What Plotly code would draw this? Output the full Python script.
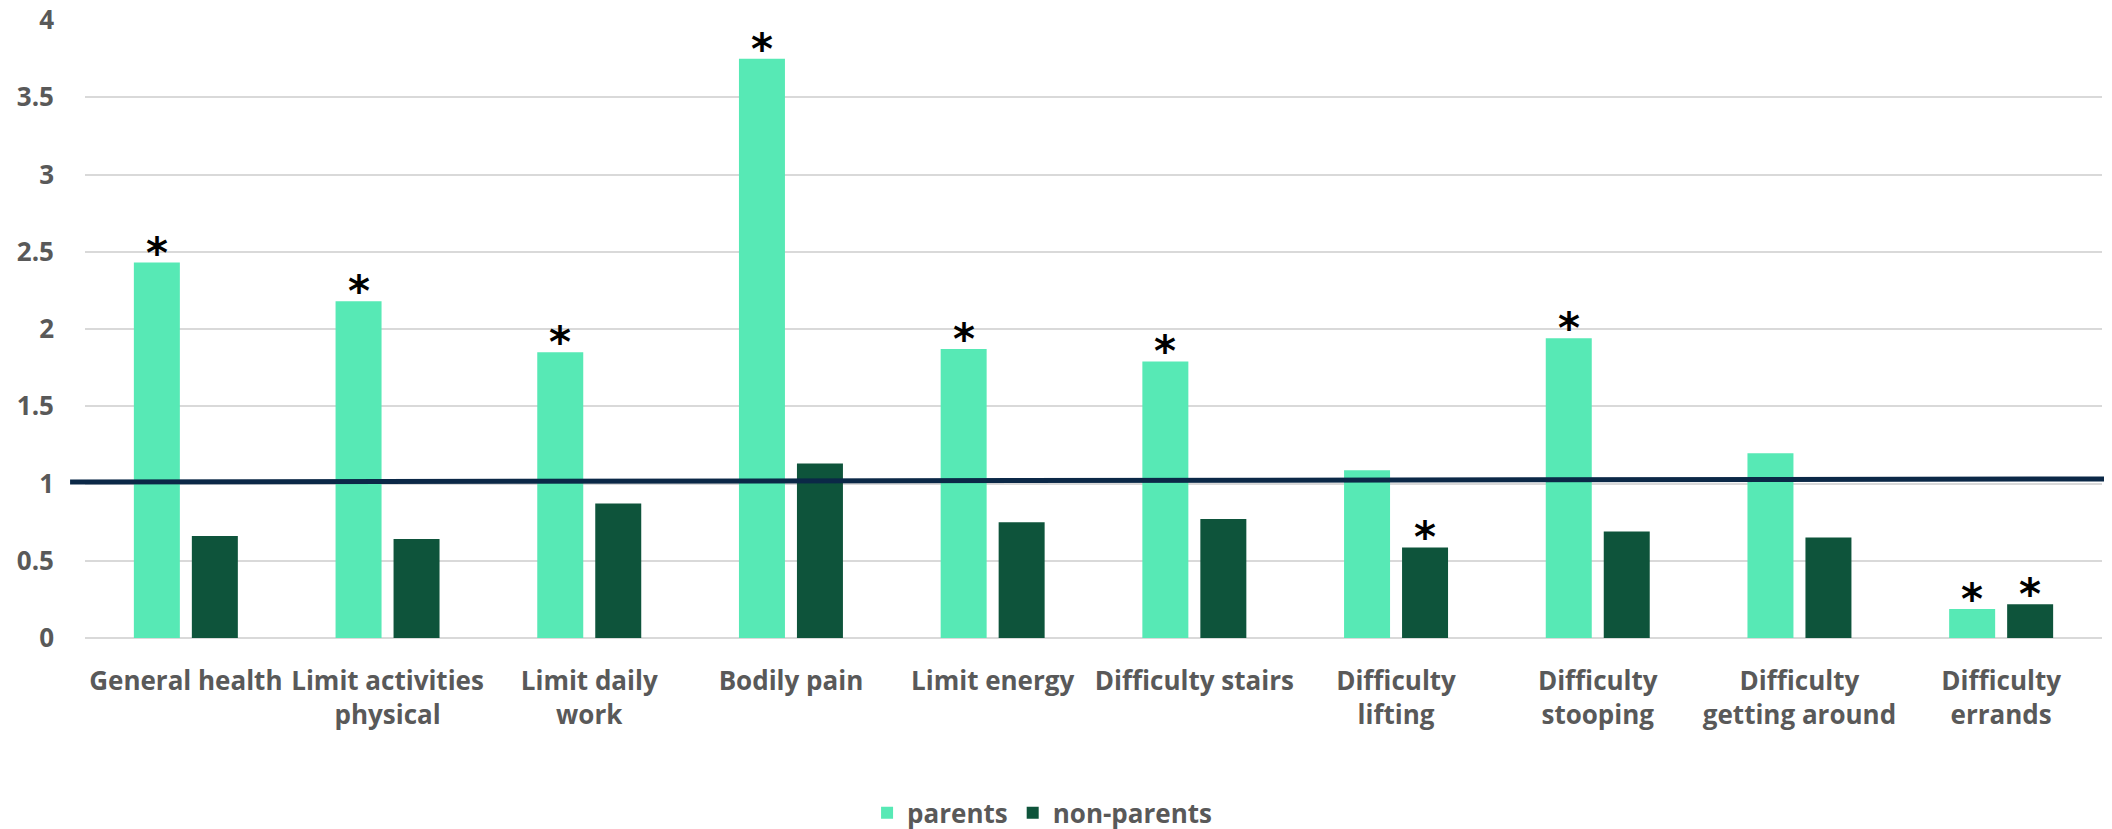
import plotly.graph_objects as go

categories = ["General health", "Limit activities<br>physical", "Limit daily<br>work", "Bodily pain",
              "Limit energy", "Difficulty stairs", "Difficulty<br>lifting", "Difficulty<br>stooping",
              "Difficulty<br>getting around", "Difficulty<br>errands"]
parents = [2.43, 2.18, 1.85, 3.75, 1.87, 1.79, 1.086, 1.94, 1.196, 0.187]
non_parents = [0.66, 0.64, 0.87, 1.13, 0.75, 0.77, 0.586, 0.69, 0.65, 0.218]
parents_sig = [True, True, True, True, True, True, False, True, False, True]
non_parents_sig = [False, False, False, False, False, False, True, False, False, True]
reference_line = [1.01, 1.03]  # reference level at 1 (slightly slanted in the original)
y_ticks = [0, 0.5, 1, 1.5, 2, 2.5, 3, 3.5, 4]

GREY = "#595959"
FONT = "Open Sans"
TICK_FONT = dict(family=FONT, size=26, color=GREY, weight="bold")

fig = go.Figure()
fig.add_trace(go.Bar(name="parents", x=categories, y=parents, marker_color="#57E9B5",
                     marker_line_width=0))
fig.add_trace(go.Bar(name="non-parents", x=categories, y=non_parents, marker_color="#0E543B",
                     marker_line_width=0))

# significance asterisks above the bars
for series, sig, shift in [(parents, parents_sig, -29), (non_parents, non_parents_sig, 29)]:
    for cat, val, s in zip(categories, series, sig):
        if s:
            fig.add_annotation(x=cat, y=val, text="*", showarrow=False, xanchor="center",
                               yanchor="bottom", xshift=shift, yshift=-17,
                               font=dict(family="DejaVu Sans", size=42, color="black", weight="bold"))

fig.add_shape(type="line", xref="paper", yref="y", x0=-0.0074, x1=1.006,
              y0=reference_line[0], y1=reference_line[1],
              line=dict(color="#0B2847", width=5), layer="above")

fig.add_annotation(text="*Statistically significant", xref="paper", yref="paper",
                   x=0.031, y=-0.302, xanchor="left", yanchor="top", showarrow=False,
                   font=dict(family="Liberation Serif", size=27, color="black"))

fig.update_layout(
    width=2112, height=829,
    margin=dict(l=77, r=18, t=12, b=199, autoexpand=False),
    plot_bgcolor="white", paper_bgcolor="white",
    barmode="group", bargap=0.425, bargroupgap=0.207,
    font=dict(family=FONT, color=GREY, size=26),
    legend=dict(orientation="h", x=0.4745, xanchor="center", y=-0.283, yanchor="middle",
                font=TICK_FONT, itemsizing="constant", traceorder="normal"),
)
fig.update_xaxes(showgrid=False, showline=False, ticks="", tickfont=TICK_FONT,
                 ticklabelstandoff=25)
fig.update_yaxes(range=[0, 4], tickvals=y_ticks, ticktext=[f"{v:g}" for v in y_ticks],
                 showgrid=True, gridcolor="#D9D9D9", gridwidth=2,
                 zeroline=True, zerolinecolor="#D9D9D9", zerolinewidth=2,
                 showline=False, ticks="", tickfont=TICK_FONT, ticklabelstandoff=30,
                 ticklabeloverflow="allow")

fig.write_html("out.html")
